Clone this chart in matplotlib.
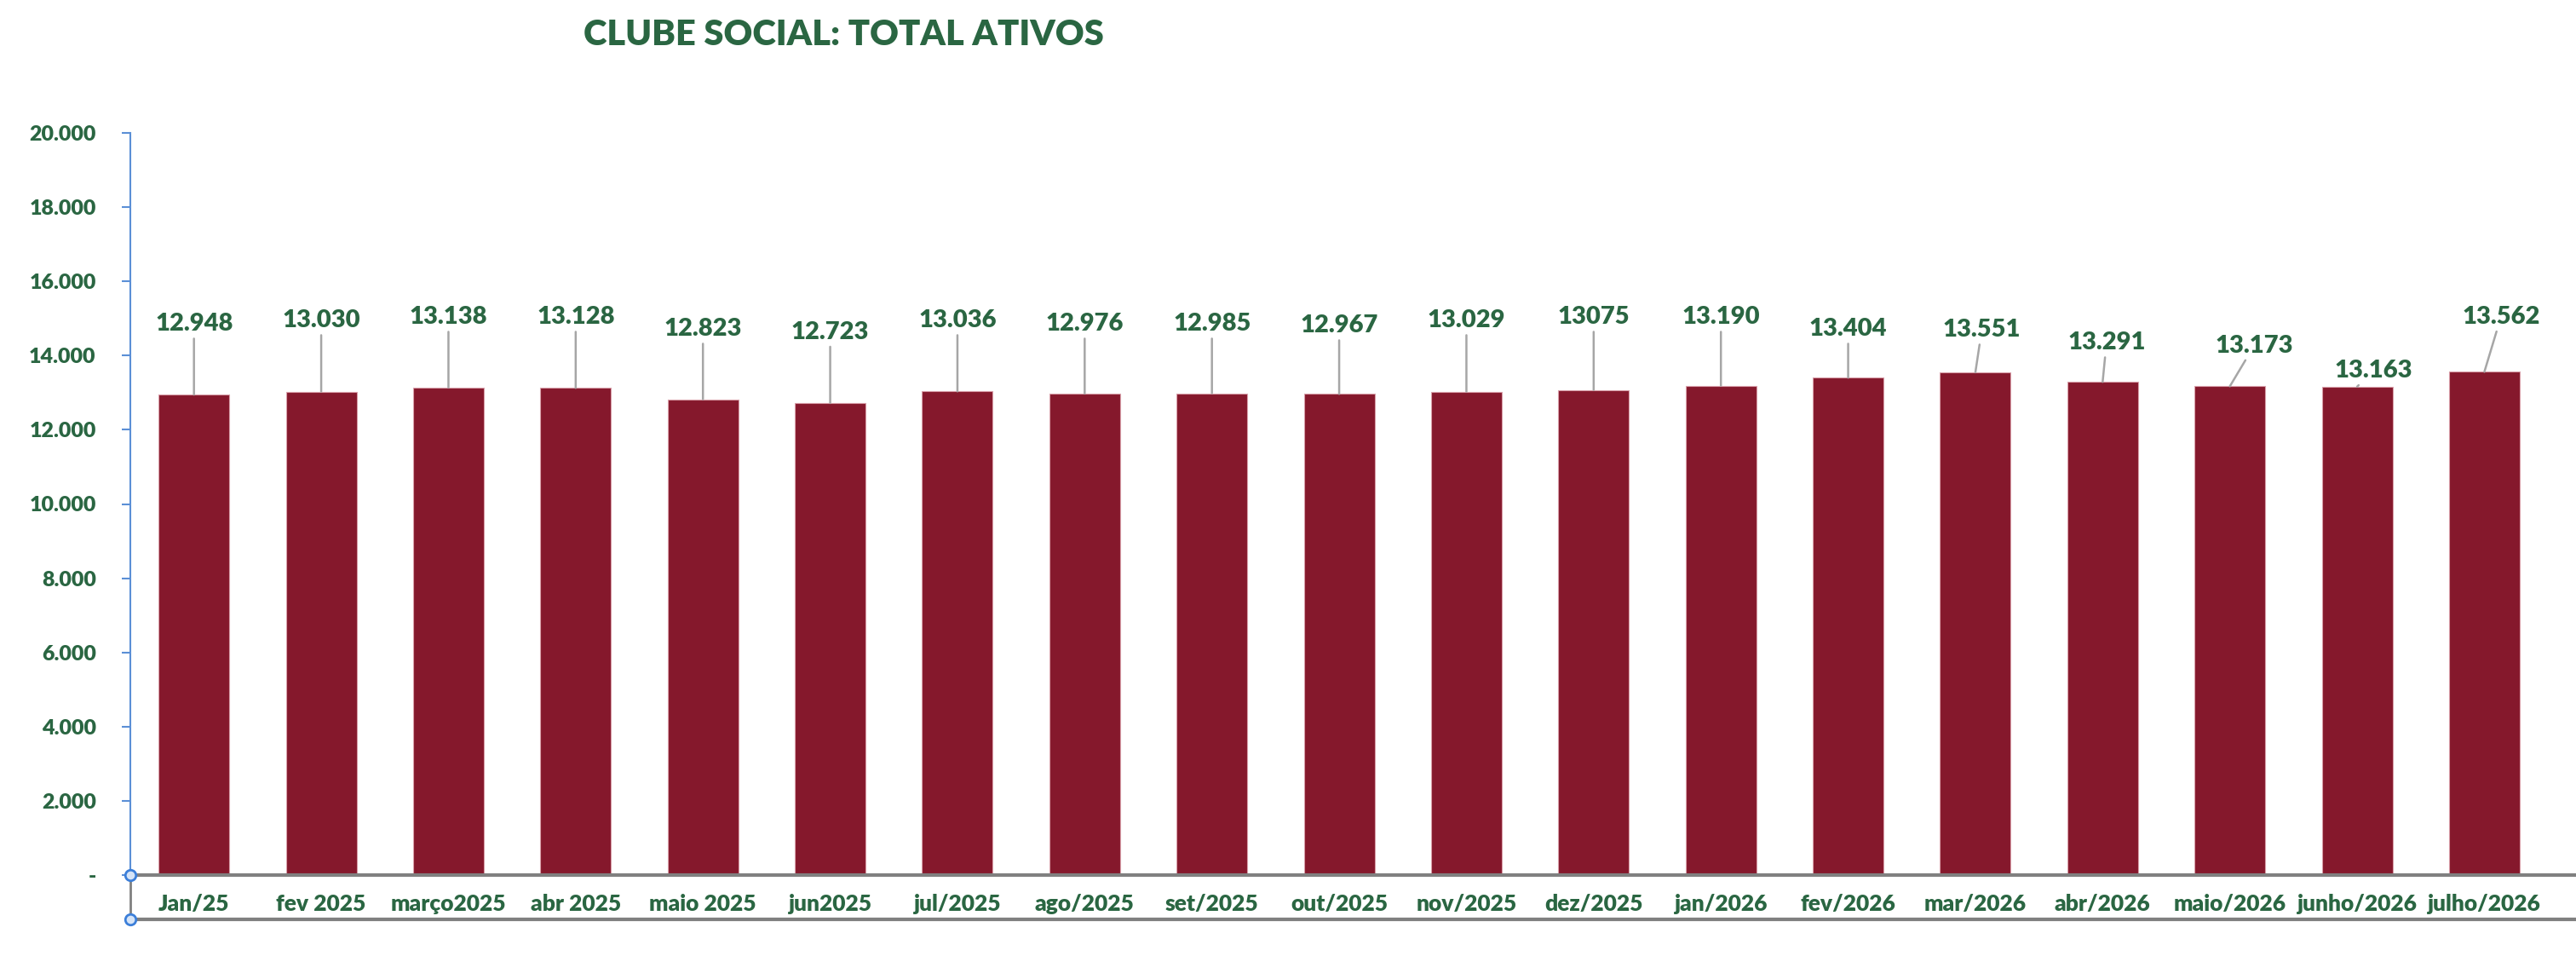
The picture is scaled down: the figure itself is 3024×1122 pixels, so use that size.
import matplotlib
matplotlib.use('Agg')
import matplotlib.pyplot as plt
from matplotlib.ticker import FuncFormatter

# data
months = ['Jan/25', 'fev 2025', 'março2025', 'abr 2025', 'maio 2025', 'jun2025',
          'jul/2025', 'ago/2025', 'set/2025', 'out/2025', 'nov/2025', 'dez/2025',
          'jan/2026', 'fev/2026', 'mar/2026', 'abr/2026', 'maio/2026',
          'junho/2026', 'julho/2026']
ativos = [12948, 13030, 13138, 13128, 12823, 12723, 13036, 12976, 12985, 12967,
          13029, 13075, 13190, 13404, 13551, 13291, 13173, 13163, 13562]
label_text = ['12.948', '13.030', '13.138', '13.128', '12.823', '12.723', '13.036',
              '12.976', '12.985', '12.967', '13.029', '13075', '13.190', '13.404',
              '13.551', '13.291', '13.173', '13.163', '13.562']

# where the data labels sit (Excel moved some of them by hand)
label_y = [14851, 14943, 15034, 15034, 14713, 14632, 14943, 14851, 14851, 14805,
           14943, 15034, 15034, 14713, 14690, 14345, 14264, 13586, 15041]
label_dx = [0, 0, 0, 0, 0, 0, 0, 0, 0, 0, 0, 0, 0, 0, 0.05, 0.03, 0.19, 0.13, 0.13]

green = '#2A6642'
bar_color = '#85182C'

plt.rcParams['font.family'] = ['Lato', 'DejaVu Sans']

fig = plt.figure(figsize=(30.24, 11.22), dpi=100)
ax = fig.add_axes([153 / 3024, 1 - 1027 / 1122, 1 - 153 / 3024, 871 / 1122])

x = list(range(len(months)))
ax.bar(x, ativos, width=0.555, color=bar_color, edgecolor='#D9A0AA', linewidth=0.8, zorder=2)

for i in x:
    ax.annotate(label_text[i], xy=(i, ativos[i]), xytext=(i + label_dx[i], label_y[i]),
                ha='center', va='center', fontsize=21, fontweight='heavy', color=green,
                arrowprops=dict(arrowstyle='-', color='#A6A6A6', lw=1.8,
                                shrinkA=1, shrinkB=0))

ax.set_xlim(-0.5, 18.72)
ax.set_ylim(0, 20000)
ax.set_yticks(range(0, 20001, 2000))
ax.yaxis.set_major_formatter(FuncFormatter(
    lambda v, p: '-' if v == 0 else f'{int(v):,}'.replace(',', '.')))
ax.tick_params(axis='y', colors='#5B8FD6', length=7, width=1.5, labelcolor=green,
               labelsize=18, pad=22)
for lab in ax.get_yticklabels():
    lab.set_fontweight('heavy')

ax.set_xticks(x)
ax.set_xticklabels(months, fontsize=19, fontweight='heavy', color=green)
ax.tick_params(axis='x', length=0, pad=16)

for s in ['top', 'right']:
    ax.spines[s].set_visible(False)
ax.spines['left'].set_color('#5B8FD6')
ax.spines['left'].set_linewidth(1.5)
ax.spines['bottom'].set_color('#808080')
ax.spines['bottom'].set_linewidth(3)

# category axis box below the bars, with the selection handles
ax.plot([0, 1], [-52 / 871, -52 / 871], transform=ax.transAxes, color='#808080',
        lw=3, clip_on=False)
ax.plot([0, 0], [0, -52 / 871], transform=ax.transAxes, color='#808080',
        lw=2, clip_on=False)
ax.plot([0, 0], [0, -52 / 871], transform=ax.transAxes, linestyle='none', marker='o',
        markersize=9, markerfacecolor='#D6E4F7', markeredgecolor='#3C7FD9',
        markeredgewidth=2, clip_on=False, zorder=5)

fig.text(990 / 3024, 1 - 41 / 1122, 'CLUBE SOCIAL: TOTAL ATIVOS', ha='center', va='center',
         fontsize=30, fontweight='heavy', color=green)

fig.savefig('out.png', dpi=100, facecolor='white')
